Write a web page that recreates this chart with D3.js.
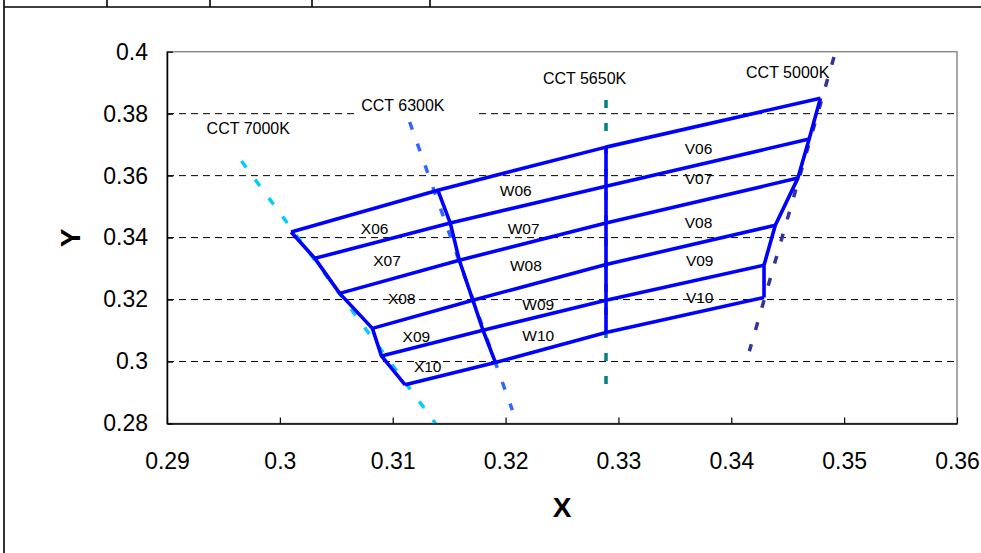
<!DOCTYPE html>
<html lang="en">
<head>
<meta charset="UTF-8">
<title>Binning chart</title>
<script src="https://d3js.org/d3.v7.min.js"></script>
<style>
    body { margin: 0; background: #fff; font-family: "Liberation Sans", Arial, sans-serif; }
    svg { display: block; }
    .tick text { font-size: 23px; fill: #000; }
    .bin-label { font-size: 15.5px; }
    .cct-label { font-size: 16px; }
</style>
</head>
<body>
<svg width="981" height="553"></svg>
<script>
// axis ticks
const xTicks = [0.29, 0.30, 0.31, 0.32, 0.33, 0.34, 0.35, 0.36];
const xTickLabels = ["0.29", "0.3", "0.31", "0.32", "0.33", "0.34", "0.35", "0.36"];
const yTicks = [0.28, 0.30, 0.32, 0.34, 0.36, 0.38, 0.40];
const yTickLabels = ["0.28", "0.3", "0.32", "0.34", "0.36", "0.38", "0.4"];
const gridY = [0.30, 0.32, 0.34, 0.36, 0.38];

// bin corner points, one array per column boundary, top row first
const edge7000 = [[0.3010, 0.3418], [0.3031, 0.3333], [0.3053, 0.3220], [0.3082, 0.3107], [0.3090, 0.3018], [0.3111, 0.2925]];
const edge6300 = [[0.3140, 0.3553], [0.3151, 0.3447], [0.3159, 0.3327], [0.3171, 0.3198], [0.3180, 0.3101], [0.3191, 0.2997]];
const edge5650 = [[0.3289, 0.3692], [0.3289, 0.3566], [0.3289, 0.3447], [0.3289, 0.3313], [0.3289, 0.3198], [0.3289, 0.3094]];
const edge5000 = [[0.3479, 0.3850], [0.3469, 0.3718], [0.3459, 0.3592], [0.3439, 0.3440], [0.3429, 0.3311], [0.3429, 0.3207]];

// bin names and where they are written
const binNames = ["X06", "X07", "X08", "X09", "X10",
                  "W06", "W07", "W08", "W09", "W10",
                  "V06", "V07", "V08", "V09", "V10"];
const binLabelX = [0.3084, 0.3095, 0.3108, 0.3121, 0.3131,
                   0.3209, 0.3216, 0.3218, 0.3229, 0.3229,
                   0.3371, 0.3371, 0.3371, 0.3372, 0.3372];
const binLabelY = [0.3430, 0.3327, 0.3204, 0.3082, 0.2985,
                   0.3553, 0.3430, 0.3311, 0.3185, 0.3085,
                   0.3686, 0.3589, 0.3447, 0.3327, 0.3207];

// CCT reference lines
const cctNames = ["CCT 7000K", "CCT 6300K", "CCT 5650K", "CCT 5000K"];
const cctLines = [
    [[0.2966, 0.3647], [0.3138, 0.2800]],
    [[0.3115, 0.3773], [0.3206, 0.2843]],
    [[0.3289, 0.3844], [0.3289, 0.2914]],
    [[0.3491, 0.3983], [0.3416, 0.3033]]
];
const cctColors = ["#00ccff", "#3366ff", "#008080", "#333399"];
const cctLabelPos = [[0.2972, 0.3754], [0.3109, 0.3828], [0.3270, 0.3915], [0.3450, 0.3934]];

const svg = d3.select("svg");
svg.append("rect").attr("width", 981).attr("height", 553).attr("fill", "#fff");

// surrounding table lines
const frame = svg.append("g").attr("stroke", "#000").attr("stroke-width", 1.6);
frame.append("line").attr("x1", 4).attr("x2", 981).attr("y1", 7).attr("y2", 7);
frame.append("line").attr("x1", 4).attr("x2", 4).attr("y1", 0).attr("y2", 553);
[107, 210, 312, 430].forEach(v => {
    frame.append("line").attr("x1", v).attr("x2", v).attr("y1", 0).attr("y2", 7);
});

const x = d3.scaleLinear().domain([0.29, 0.36]).range([167, 957]);
const y = d3.scaleLinear().domain([0.28, 0.40]).range([423.5, 51.7]);

// plot area border
svg.append("rect")
    .attr("x", x(0.29)).attr("y", y(0.40))
    .attr("width", x(0.36) - x(0.29)).attr("height", y(0.28) - y(0.40))
    .attr("fill", "none").attr("stroke", "#8c8c8c").attr("stroke-width", 1.5);

// dashed gridlines
svg.append("g").selectAll("line")
    .data(gridY)
    .join("line")
    .attr("x1", x(0.29)).attr("x2", x(0.36))
    .attr("y1", d => y(d)).attr("y2", d => y(d))
    .attr("stroke", "#000").attr("stroke-width", 1)
    .attr("stroke-dasharray", "7,5");

// label boxes hide the gridline behind them
const labelG = svg.append("g");
cctNames.forEach((name, i) => {
    labelG.append("rect")
        .attr("x", x(cctLabelPos[i][0]) - 48)
        .attr("y", y(cctLabelPos[i][1]) - 12)
        .attr("width", 120).attr("height", 24)
        .attr("fill", "#fff");
});

const line = d3.line().x(d => x(d[0])).y(d => y(d[1]));

// CCT dashed lines
svg.append("g").selectAll("path")
    .data(cctLines)
    .join("path")
    .attr("d", line)
    .attr("fill", "none")
    .attr("stroke", (d, i) => cctColors[i])
    .attr("stroke-width", 3.5)
    .attr("stroke-dasharray", "8,15");

// bin grid
const columns = [edge7000, edge6300, edge5650, edge5000];
const rows = d3.range(edge7000.length).map(r => columns.map(c => c[r]));
const grid = svg.append("g")
    .attr("fill", "none").attr("stroke", "#0000ff")
    .attr("stroke-width", 3.6).attr("stroke-linejoin", "round");
grid.selectAll(".col").data(columns).join("path").attr("class", "col").attr("d", line);
grid.selectAll(".row").data(rows).join("path").attr("class", "row").attr("d", line);

// bin labels
svg.append("g").selectAll("text")
    .data(binNames)
    .join("text")
    .attr("class", "bin-label")
    .attr("x", (d, i) => x(binLabelX[i]))
    .attr("y", (d, i) => y(binLabelY[i]))
    .attr("text-anchor", "middle")
    .attr("dy", "0.35em")
    .text(d => d);

// CCT labels
svg.append("g").selectAll("text")
    .data(cctNames)
    .join("text")
    .attr("class", "cct-label")
    .attr("x", (d, i) => x(cctLabelPos[i][0]))
    .attr("y", (d, i) => y(cctLabelPos[i][1]))
    .attr("text-anchor", "middle")
    .attr("dy", "0.35em")
    .text(d => d);

// axes
const xAxis = svg.append("g")
    .attr("transform", `translate(0,${y(0.28)})`)
    .call(d3.axisBottom(x).tickValues(xTicks)
        .tickFormat((d, i) => xTickLabels[i])
        .tickSizeInner(-6).tickSizeOuter(0).tickPadding(29));
const yAxis = svg.append("g")
    .attr("transform", `translate(${x(0.29)},0)`)
    .call(d3.axisLeft(y).tickValues(yTicks)
        .tickFormat((d, i) => yTickLabels[i])
        .tickSizeInner(-6).tickSizeOuter(0).tickPadding(19));
[xAxis, yAxis].forEach(a => {
    a.attr("font-family", null).attr("font-size", null);
    a.select(".domain").attr("stroke", "#000").attr("stroke-width", 1.5);
    a.selectAll(".tick line").attr("stroke", "#000").attr("stroke-width", 1.2);
});

// axis titles
svg.append("text")
    .attr("x", 562).attr("y", 507).attr("dy", "0.35em")
    .attr("text-anchor", "middle")
    .attr("font-size", 28).attr("font-weight", "bold")
    .text("X");
svg.append("text")
    .attr("transform", "translate(70,238) rotate(-90)")
    .attr("dy", "0.35em")
    .attr("text-anchor", "middle")
    .attr("font-size", 28).attr("font-weight", "bold")
    .text("Y");
</script>
</body>
</html>
